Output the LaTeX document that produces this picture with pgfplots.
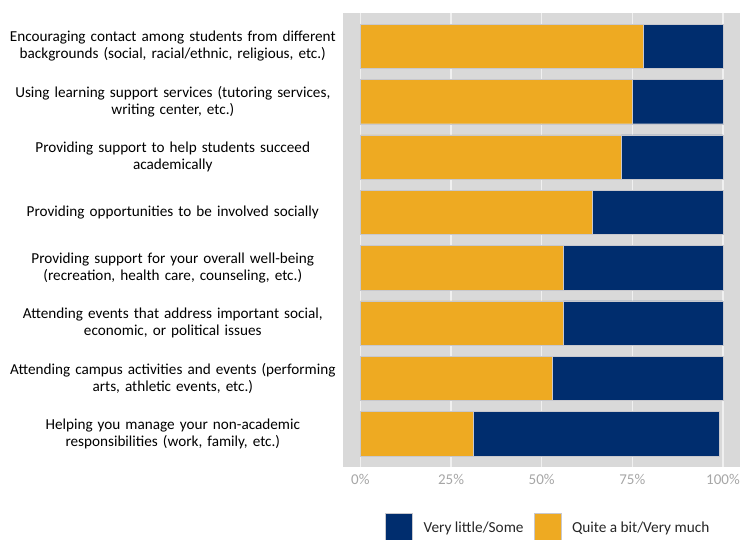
\documentclass[border=0pt]{standalone}
\usepackage{pgfplots}
\pgfplotsset{compat=1.18}
\usepackage{fontspec}
\setmainfont{Carlito}
\definecolor{cblue}{RGB}{0,45,110}
\definecolor{corange}{RGB}{238,170,34}
\definecolor{panel}{RGB}{217,217,217}
\definecolor{ticktext}{RGB}{166,166,166}
\definecolor{edge}{RGB}{200,200,205}
\begin{document}
\begin{tikzpicture}
\path[use as bounding box] (0,0) rectangle (743pt,539pt);
\begin{axis}[
 at={(343pt,72pt)}, anchor=south west,
 scale only axis, width=397pt, height=454pt,
 xbar stacked, bar width=0.8,
 xmin=-4.8, xmax=104.7, ymin=0.4, ymax=8.6, y dir=reverse,
 axis line style={draw=none}, major tick length=0pt,
 axis background/.style={fill=panel},
 xmajorgrids, grid style={white!60!panel, line width=1.5pt},
 xtick={0,25,50,75,100}, xticklabels={0\%,25\%,50\%,75\%,100\%},
 xticklabel style={font=\fontsize{15}{17}\selectfont, text=ticktext, yshift=-4pt},
 ytick={1,2,3,4,5,6,7,8},
 yticklabels={
  {Encouraging contact among students from different\\backgrounds (social, racial/ethnic, religious, etc.)},
  {Using learning support services (tutoring services,\\writing center, etc.)},
  {Providing support to help students succeed\\academically},
  {Providing opportunities to be involved socially},
  {Providing support for your overall well-being\\(recreation, health care, counseling, etc.)},
  {Attending events that address important social,\\economic, or political issues},
  {Attending campus activities and events (performing\\arts, athletic events, etc.)},
  {Helping you manage your non-academic\\responsibilities (work, family, etc.)}},
 yticklabel style={font=\fontsize{15.2}{17}\selectfont, text=black, text width=340pt, align=center, inner sep=0pt},
 legend style={at={(axis description cs:0.1058,-0.1013)}, anchor=north west, draw=none, fill=none,
   legend columns=2, inner sep=0pt, font=\fontsize{15.3}{17}\selectfont, text=black!85,
   nodes={inner sep=0pt},
   /tikz/every odd column/.append style={column sep=11pt},
   /tikz/every even column/.append style={column sep=10pt}},
 legend image code/.code={\fill[#1] (0pt,-12pt) rectangle (27pt,15pt);},
]
\addlegendimage{fill=cblue, draw=edge}
\addlegendentry{Very little/Some}
\addlegendimage{fill=corange, draw=edge}
\addlegendentry{Quite a bit/Very much}
\addplot[fill=corange, draw=edge, line width=0.4pt] coordinates {
 (78,1) (75,2) (72,3) (64,4) (56,5) (56,6) (53,7) (31,8)};
\addplot[fill=cblue, draw=edge, line width=0.4pt] coordinates {
 (22,1) (25,2) (28,3) (36,4) (44,5) (44,6) (47,7) (68,8)};
\end{axis}
\end{tikzpicture}
\end{document}
